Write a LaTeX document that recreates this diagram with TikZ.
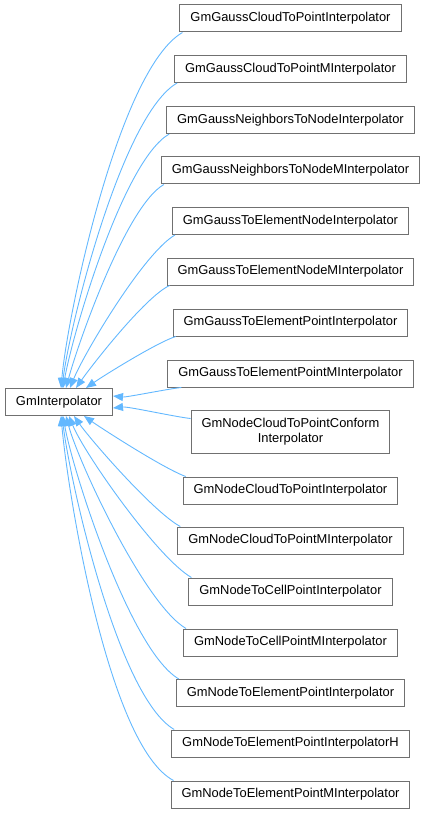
\documentclass[tikz,border=0pt]{standalone}
\usepackage{fontspec}
\setmainfont{Liberation Sans}
\usetikzlibrary{positioning}
\usetikzlibrary{arrows.meta}

\definecolor{celeste}{HTML}{63B8FF}
\definecolor{borde}{HTML}{707070}

\tikzset{
  clase/.style={draw=borde, fill=white, line width=1pt, minimum height=27pt,
    inner xsep=10.5pt, inner ysep=2pt, align=center,
    font=\fontsize{12.9}{15.5}\selectfont},
  hereda/.style={draw=celeste, line width=0.9pt,
    -{Triangle[length=10pt,width=8pt]}, looseness=0.5}
}

\begin{document}
\begin{tikzpicture}[x=1pt, y=1pt]
          \useasboundingbox (0,0) rectangle (426,-813);
          % Nodos
          \node[clase](gi) at (59,-402) {GmInterpolator};
          \node[clase](c1) at (290.5,-18.5) {GmGaussCloudToPointInterpolator};
          \node[clase](c2) at (290.5,-69) {GmGaussCloudToPointMInterpolator};
          \node[clase](c3) at (290.5,-120) {GmGaussNeighborsToNodeInterpolator};
          \node[clase](c4) at (290.5,-170.5) {GmGaussNeighborsToNodeMInterpolator};
          \node[clase](c5) at (290.5,-221) {GmGaussToElementNodeInterpolator};
          \node[clase](c6) at (290.5,-271.5) {GmGaussToElementNodeMInterpolator};
          \node[clase](c7) at (290.5,-322.5) {GmGaussToElementPointInterpolator};
          \node[clase](c8) at (290.5,-373.5) {GmGaussToElementPointMInterpolator};
          \node[clase, minimum height=43pt](c9) at (290.5,-431.5) {GmNodeCloudToPointConform\\Interpolator};
          \node[clase](c10) at (290.5,-490.5) {GmNodeCloudToPointInterpolator};
          \node[clase](c11) at (290.5,-540.5) {GmNodeCloudToPointMInterpolator};
          \node[clase](c12) at (290.5,-591.5) {GmNodeToCellPointInterpolator};
          \node[clase](c13) at (290.5,-642.5) {GmNodeToCellPointMInterpolator};
          \node[clase](c14) at (290.5,-693) {GmNodeToElementPointInterpolator};
          \node[clase](c15) at (290.5,-743.5) {GmNodeToElementPointInterpolatorH};
          \node[clase](c16) at (290.5,-794.5) {GmNodeToElementPointMInterpolator};

          % Aristas
          \draw[hereda] ([xshift=3pt]c1.south west) to[out=210,in=85] ([xshift=2pt]gi.north);
          \draw[hereda] ([xshift=3pt]c2.south west) to[out=210,in=83] ([xshift=3pt]gi.north);
          \draw[hereda] ([xshift=3pt]c3.south west) to[out=210,in=80] ([xshift=4pt]gi.north);
          \draw[hereda] ([xshift=3pt]c4.south west) to[out=210,in=75] ([xshift=7pt]gi.north);
          \draw[hereda] ([xshift=3pt]c5.south west) to[out=210,in=68] ([xshift=11pt]gi.north);
          \draw[hereda] ([xshift=3pt]c6.south west) to[out=205,in=55] ([xshift=17pt]gi.north);
          \draw[hereda] ([xshift=3pt]c7.south west) to[out=198,in=35] ([xshift=27pt]gi.north);
          \draw[hereda] ([xshift=14pt]c8.south west) to[out=186,in=-6] ([yshift=6pt]gi.east);
          \draw[hereda] ([yshift=-9pt]c9.north west) to[out=174,in=6] ([yshift=-6pt]gi.east);
          \draw[hereda] ([xshift=3pt]c10.north west) to[out=160,in=-35] ([xshift=25pt]gi.south);
          \draw[hereda] ([xshift=3pt]c11.north west) to[out=152,in=-55] ([xshift=15pt]gi.south);
          \draw[hereda] ([xshift=3pt]c12.north west) to[out=150,in=-68] ([xshift=10pt]gi.south);
          \draw[hereda] ([xshift=3pt]c13.north west) to[out=150,in=-75] ([xshift=7pt]gi.south);
          \draw[hereda] ([xshift=3pt]c14.north west) to[out=150,in=-80] ([xshift=4pt]gi.south);
          \draw[hereda] ([xshift=3pt]c15.north west) to[out=150,in=-83] ([xshift=3pt]gi.south);
          \draw[hereda] ([xshift=3pt]c16.north west) to[out=152,in=-85] ([xshift=2pt]gi.south);

        \end{tikzpicture}
\end{document}
